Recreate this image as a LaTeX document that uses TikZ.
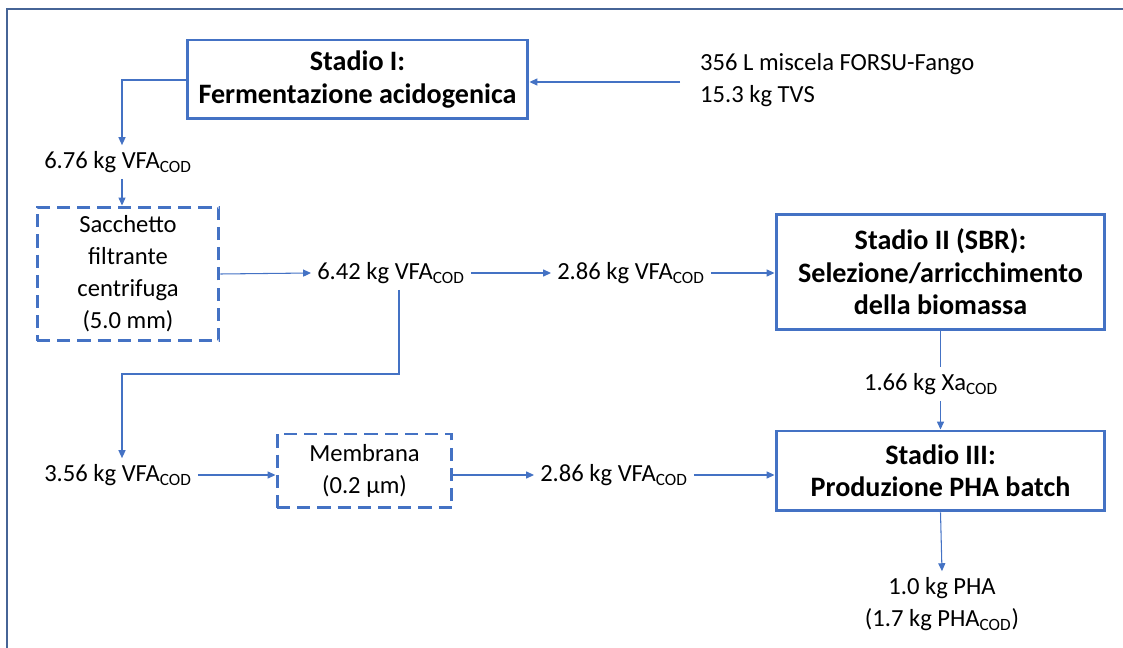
\documentclass[tikz,border=0pt]{standalone}
\usepackage{fontspec}
\setmainfont{Carlito}
\usetikzlibrary{arrows.meta}
\definecolor{blu}{RGB}{68,114,196}
\definecolor{cornice}{RGB}{70,100,150}
\newcommand{\cod}{\textsubscript{COD}}
\tikzset{
  stadio/.style={draw=blu, line width=1.7pt, align=center, font=\fontsize{16}{18.4}\selectfont\bfseries},
  filtro/.style={draw=blu, line width=1.7pt, dash pattern=on 7.5pt off 4pt, align=center},
  flusso/.style={align=center},
  freccia/.style={->, draw=blu, line width=0.6pt}
}
\begin{document}
\begin{tikzpicture}[>={Triangle[length=4.5pt,width=4pt]}, x=0.02cm, y=-0.02cm, font=\fontsize{14}{18.2}\selectfont]
  \useasboundingbox (0,0) rectangle (1123,648);
  % cornice
  \draw[cornice, line width=0.8pt] (7,648) -- (7,9) -- (1123,9);
  % stadi
  \node[stadio, minimum width=6.82cm, minimum height=1.58cm] (st1) at (357.5,79.5) {Stadio I:\\Fermentazione acidogenica};
  \node[stadio, minimum width=6.58cm, minimum height=2.32cm] (st2) at (940.5,272) {Stadio II (SBR):\\Selezione/arricchimento\\della biomassa};
  \node[stadio, minimum width=6.58cm, minimum height=1.6cm] (st3) at (940.5,471) {Stadio III:\\Produzione PHA batch};
  % filtri
  \node[filtro, minimum width=3.64cm, minimum height=2.68cm] (sacc) at (128,274) {Sacchetto\\filtrante\\centrifuga\\(5.0 mm)};
  \node[filtro, minimum width=3.5cm, minimum height=1.48cm] (memb) at (364.5,471) {Membrana\\(0.2 µm)};
  % flussi
  \node[flusso, align=left, anchor=west] (ing) at (694,80) {356 L miscela FORSU-Fango\\15.3 kg TVS};
  \node[flusso] (v676) at (118,162) {6.76 kg VFA\cod};
  \node[flusso] (v642) at (391,273) {6.42 kg VFA\cod};
  \node[flusso] (v286a) at (631,273) {2.86 kg VFA\cod};
  \node[flusso] (v356) at (118,475) {3.56 kg VFA\cod};
  \node[flusso] (v286b) at (614,475) {2.86 kg VFA\cod};
  \node[flusso] (xa) at (931,384) {1.66 kg Xa\cod};
  \node[flusso] (pha) at (942,604) {1.0 kg PHA\\(1.7 kg PHA\cod)};
  % collegamenti
  \coordinate (c0) at (680,82);
  \coordinate (c1) at (122,80);
  \coordinate (g1) at (399,374);
  \coordinate (g2) at (122,374);
  \draw[freccia] (c0) -- (c0 -| st1.east);
  \draw[freccia] (st1.west |- c1) -- (c1) -- (c1 |- v676.north);
  \draw[freccia] (c1 |- v676.south) -- (c1 |- sacc.north);
  \draw[freccia] (sacc.east) -- (v642.west);
  \draw[freccia] (v642.east) -- (v286a.west);
  \draw[freccia] (v286a.east) -- (v286a.east -| st2.west);
  \draw[freccia] (g1 |- v642.south) -- (g1) -- (g2) -- (g2 |- v356.north);
  \draw[freccia] (v356.east) -- (v356.east -| memb.west);
  \draw[freccia] (memb.east |- v356.east) -- (v286b.west);
  \draw[freccia] (v286b.east) -- (v286b.east -| st3.west);
  \draw[blu, line width=0.6pt] (st2.south) -- (st2.south |- xa.north);
  \draw[freccia] (st3.north |- xa.south) -- (st3.north);
  \draw[freccia] (st3.south) -- (pha.north);
\end{tikzpicture}
\end{document}
